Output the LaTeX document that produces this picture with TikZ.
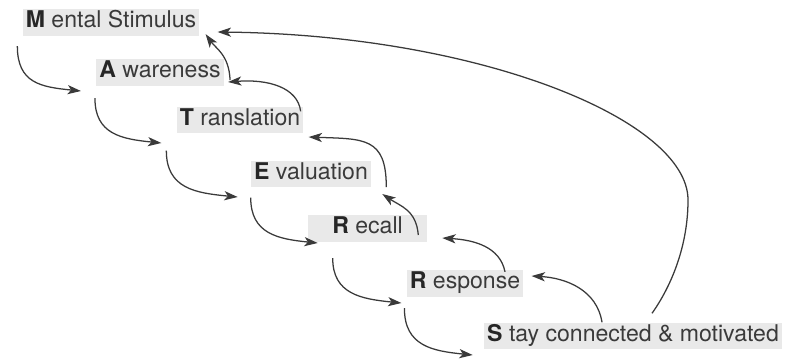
\documentclass[tikz,border=0pt]{standalone}
\usepackage{fontspec}
\setmainfont{TeX Gyre Heros}
\usetikzlibrary{arrows.meta, calc}
\definecolor{boxgray}{HTML}{E9E9E9}
\definecolor{inkgray}{HTML}{3A3A3A}
\tikzset{
  stage/.style={fill=boxgray, text=inkgray, inner xsep=0.08cm, inner ysep=0pt,
    text height=0.47cm, text depth=0.2cm, font=\fontsize{16.4}{19}\selectfont},
  flow/.style={draw=inkgray, line width=0.9pt,
    -{Stealth[length=9.5pt,width=6.5pt,inset=2.5pt]}}
}
\newcommand{\initial}[1]{\textbf{\color{black!85}#1}}

\begin{document}
\begin{tikzpicture}[x=0.025cm, y=-0.025cm]
    \useasboundingbox (0,0) rectangle (786,358);

    \node[stage] (m) at (111,22.5) {\initial{M} ental Stimulus};
    \node[stage] (a) at (160,72.5) {\initial{A} wareness};
    \node[stage] (t) at (240,120) {\initial{T} ranslation};
    \node[stage] (e) at (311,174) {\initial{E} valuation};
    \node[stage, minimum width=2.975cm] (rc) at (367.5,228.5) {\initial{R} ecall};
    \node[stage] (rs) at (465,283.5) {\initial{R} esponse};
    \node[stage] (s) at (633,336) {\initial{S} tay connected \& motivated};

    % down the steps
    \draw[flow] ($(m.south west)+(-5,10)$) .. controls +(0,37) and +(-40,-4) .. ($(a.west)+(-15,18.5)$);
    \draw[flow] ($(a.south west)+(-1,12)$) .. controls +(0,36) and +(-40,-4) .. ($(t.west)+(-15,23)$);
    \draw[flow] ($(t.south west)+(-10,17)$) .. controls +(0,38) and +(-42,-4) .. ($(e.west)+(-13,23)$);
    \draw[flow] ($(e.south west)+(0,10)$) .. controls +(0,36) and +(-40,-4) .. ($(rc.west)+(10,14.5)$);
    \draw[flow] ($(rc.south west)+(25,16)$) .. controls +(0,36) and +(-40,-4) .. ($(rs.west)+(-5,19.5)$);
    \draw[flow] ($(rs.south west)+(-2,11)$) .. controls +(0,38) and +(-40,-4) .. ($(s.west)+(-11,19)$);

    % back up the steps
    \draw[flow] ($(s.north)+(-31,0)$) .. controls +(-5,-32) and +(35,2) .. ($(rs.east)+(8,-7.5)$);
    \draw[flow] ($(rs.north)+(40,2)$) .. controls +(-5,-25) and +(32,2) .. ($(rc.east)+(15,9.5)$);
    \draw[flow] ($(rc.east)+(-9,6.5)$) .. controls +(-2,-25) and +(18,12) .. ($(e.east)+(11,20)$);
    \draw[flow] ($(e.east)+(15,13)$) .. controls +(0,-50) and +(55,2) .. ($(t.east)+(5,17)$);
    \draw[flow] ($(t.north east)+(-3,5)$) .. controls +(-3,-24) and +(40,-3) .. ($(a.east)+(4,9.5)$);
    \draw[flow] ($(a.east)+(6,7.5)$) .. controls +(-1,-25) and +(10,14) .. ($(m.south east)+(6,-2)$);

    \coordinate (bend) at (688,200);
    \draw[flow] ($(s.north)+(19,-9)$) .. controls (672,285) and (688,245) .. (bend)
      .. controls (688,120) and (480,35) .. ($(m.east)+(18,9.5)$);
\end{tikzpicture}
\end{document}
